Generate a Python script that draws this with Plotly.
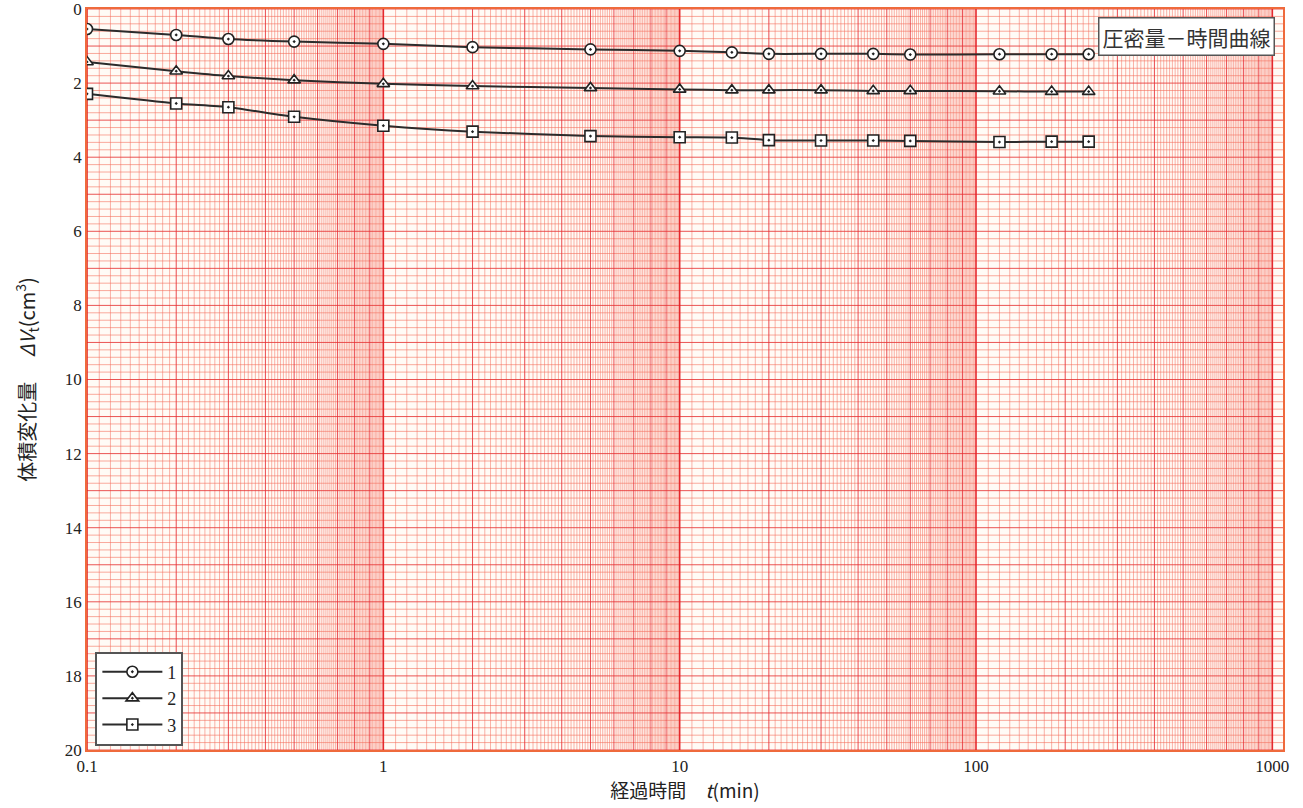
import plotly.graph_objects as go

# ---- data ----
t_min = [0.1, 0.2, 0.3, 0.5, 1, 2, 5, 10, 15, 20, 30, 45, 60, 120, 180, 240]
series_names = ["1", "2", "3"]
dv_1 = [0.54, 0.70, 0.81, 0.88, 0.94, 1.03, 1.09, 1.13, 1.17, 1.21, 1.21, 1.21, 1.23, 1.22, 1.22, 1.22]
dv_2 = [1.43, 1.68, 1.81, 1.92, 2.02, 2.08, 2.13, 2.17, 2.19, 2.19, 2.19, 2.21, 2.21, 2.22, 2.23, 2.23]
dv_3 = [2.29, 2.55, 2.65, 2.91, 3.15, 3.31, 3.43, 3.46, 3.47, 3.54, 3.55, 3.55, 3.56, 3.59, 3.58, 3.58]
x_tickvals = [0.1, 1, 10, 100, 1000]
x_ticktext = ["0.1", "1", "10", "100", "1000"]
y_tickvals = list(range(0, 21, 2))

X_LOG_RANGE = [-1, 3.036]
Y_MAX = 20

fig = go.Figure()

# ---- graph-paper grid (semi-log paper) ----
xmax = 10 ** X_LOG_RANGE[1]
v_minor, v_digit, v_decade = [], [], []
for dec in [0.1, 1, 10, 100, 1000]:
    for k in range(1, 10):
        for j in range(10):
            v = dec * (k + j / 10)
            if v > xmax * 0.999 or v < 0.1:
                continue
            if k == 1 and j == 0:
                v_decade.append(v)
            elif j == 0:
                v_digit.append(v)
            else:
                v_minor.append(v)

h_minor, h_major = [], []
for i in range(0, Y_MAX * 5 + 1):
    yv = i / 5
    if i % 5 == 0:
        h_major.append(yv)
    else:
        h_minor.append(yv)


def vlines(vals):
    xs, ys = [], []
    for v in vals:
        xs += [v, v, None]
        ys += [0, Y_MAX, None]
    return xs, ys


def hlines(vals):
    xs, ys = [], []
    for v in vals:
        xs += [0.1, xmax, None]
        ys += [v, v, None]
    return xs, ys


grid_specs = [
    (hlines(h_minor), "rgba(245,115,95,0.6)", 1),
    (vlines(v_minor), "rgba(245,105,90,0.5)", 1),
    (hlines(h_major), "rgba(230,55,55,0.85)", 1),
    (vlines(v_digit), "rgba(230,45,50,0.85)", 1),
    (vlines(v_decade), "rgba(228,30,35,0.95)", 1.6),
]
for (xs, ys), col, w in grid_specs:
    fig.add_trace(go.Scatter(x=xs, y=ys, mode="lines", line=dict(color=col, width=w),
                             hoverinfo="skip", showlegend=False))

# ---- data series ----
symbols = ["circle-dot", "triangle-up-dot", "square-dot"]
for name, vals, sym in zip(series_names, [dv_1, dv_2, dv_3], symbols):
    fig.add_trace(go.Scatter(
        x=t_min, y=vals, name=name, mode="lines+markers",
        line=dict(color="#2b2b2b", width=2, shape="spline", smoothing=0.6),
        marker=dict(symbol=sym, size=11, color="white",
                    line=dict(color="#222222", width=1.6)),
    ))

serif = "Liberation Serif"
cjk = "Noto Sans CJK JP"

fig.update_layout(
    width=1303, height=808,
    margin=dict(l=87, r=20, t=9, b=58, autoexpand=False),
    paper_bgcolor="white",
    plot_bgcolor="#fffbf6",
    font=dict(family=serif, size=16, color="#222"),
    xaxis=dict(type="log", range=X_LOG_RANGE, tickvals=x_tickvals, ticktext=x_ticktext,
               showgrid=False, zeroline=False, ticks="", showline=True, linecolor="#ef6a3c",
               linewidth=1.5, mirror=True, automargin=False, ticklabeloverflow="allow",
               tickfont=dict(family=serif, size=17),
               title=dict(text="経過時間　<i>t</i>(min)", font=dict(family=cjk, size=19), standoff=0)),
    yaxis=dict(range=[Y_MAX, 0], tickvals=y_tickvals, showgrid=False, zeroline=False, ticks="",
               showline=True, linecolor="#ef6a3c", linewidth=1.5, mirror=True, automargin=False,
               ticklabeloverflow="allow",
               tickfont=dict(family=serif, size=17),
               title=dict(text="体積変化量　 <i>ΔV</i><sub>t</sub>(cm<sup>3</sup>)",
                          font=dict(family=cjk, size=20), standoff=24)),
    legend=dict(x=0.007, y=0.006, xanchor="left", yanchor="bottom",
                bgcolor="white", bordercolor="#555", borderwidth=2,
                font=dict(family=serif, size=18), itemwidth=60,
                tracegroupgap=2),
    annotations=[dict(text="圧密量－時間曲線", xref="paper", yref="paper", x=0.993, y=0.989,
                      xanchor="right", yanchor="top", showarrow=False,
                      font=dict(family=cjk, size=21, color="#333"),
                      bgcolor="white", bordercolor="#555", borderwidth=1.5, borderpad=3)],
)

fig.write_html("out.html", config={"displayModeBar": False},
               post_script="document.body.style.margin='0';")
